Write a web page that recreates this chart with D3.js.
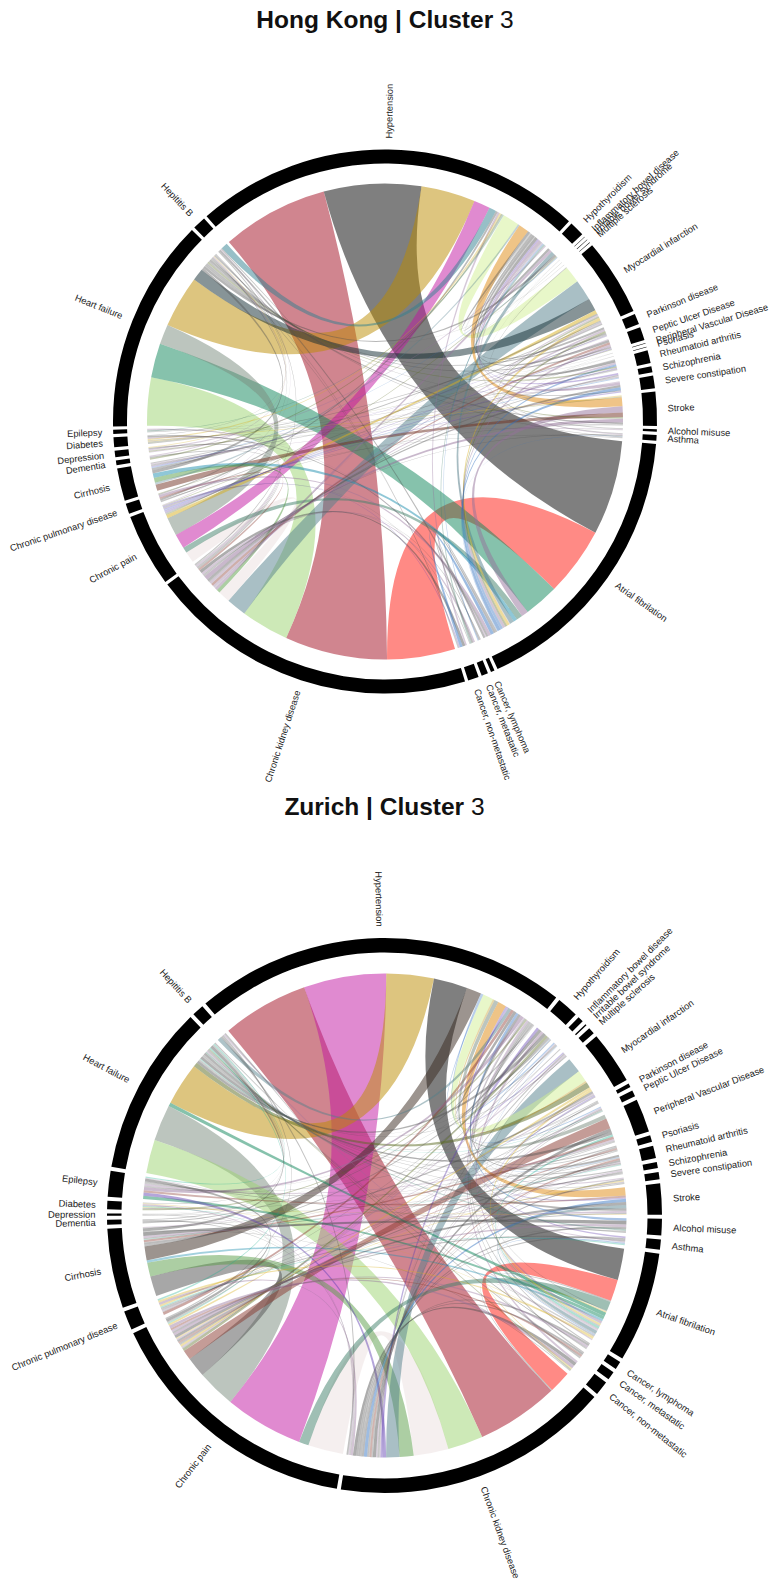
<!DOCTYPE html>
<html>
<head>
<meta charset="utf-8">
<script src="https://cdn.jsdelivr.net/npm/d3@7"></script>
<style>
  html, body { margin: 0; padding: 0; background: #fff; }
  svg { display: block; }
  text { font-family: "Liberation Sans", Arial, sans-serif; }
</style>
</head>
<body>
<div id="chart"></div>
<script>
// sector names, clockwise from the top
const categories = ['Hypertension','Hypothyroidism','Inflammatory bowel disease','Irritable bowel syndrome','Multiple sclerosis',
  'Myocardial infarction','Parkinson disease','Peptic Ulcer Disease','Peripheral Vascular Disease','Psoriasis',
  'Rheumatoid arthritis','Schizophrenia','Severe constipation','Stroke','Alcohol misuse','Asthma','Atrial fibrilation',
  'Cancer, lymphoma','Cancer, metastatic','Cancer, non-metastatic','Chronic kidney disease','Chronic pain',
  'Chronic pulmonary disease','Cirrhosis','Dementia','Depression','Diabetes','Epilepsy','Heart failure','Hepititis B'];

const [H,HT,IBD,IBS,MS,MI,PD,PUD,PVD,PSO,RA,SZ,SC,ST,AM,AS,AF,CL,CM,CN,CKD,CP,COPD,CI,DM,DP,DB,EP,HF,HB] = categories.map((d,i) => i);

// sector sizes, same order as categories
const hkSizes = [83,3.2,.1,.1,.1,16.3,2.3,2.8,.1,.1,2.7,1.3,2.7,7.2,.5,1.2,60.4,.8,1.4,2.3,69.8,15.5,2.2,6.9,1,1.4,2.1,.9,45.5,2.8];
const zhSizes = [78.4,4.5,1.2,.3,1.4,11,.8,1.3,7,1.4,2.6,1.3,1.5,6.5,3.5,2.1,23.1,1.7,1.8,3,58.2,55,4,16.7,1,.5,1.8,5.4,35.5,2.5];

// link colours (drawn at 50% opacity)
const palette = {
  rose:'#A10B1F', grey:'#000000', salmon:'#FF150B', tan:'#BB8B00', lgreen:'#9BD36F', teal:'#0D8559', silver:'#798B7D',
  steel:'#537F8B', pgreen:'#D1EF93', mag:'#C115A1', slate:'#102A30', ppink:'#EBDFDF', orange:'#DF8A10', steel2:'#2F7F8F',
  mauve:'#93719A', sage:'#3F7F6A', gold:'#D8B020', brown:'#703020', cyan:'#1F90B0', gray:'#505050', olive:'#5A6A20',
  blue:'#3070C0', purple:'#6040B0', rust:'#8A3A30', warm:'#3A2A20', sage2:'#5A9D48', mint:'#20B090'
};

// [sector, sector, width, colour]
const hkLinks = [
  [H,CKD,25.6,'rose'],[H,AF,23.3,'grey'],[AF,CKD,17,'salmon'],[H,HF,13,'tan'],[HF,CKD,12,'lgreen'],[HF,AF,8.5,'teal'],
  [CP,HF,5,'silver'],[MI,CKD,5,'steel'],[H,MI,4,'pgreen'],[H,CP,3.9,'mag'],[HF,MI,3,'slate'],[CP,CKD,3,'ppink'],
  [H,ST,2.5,'orange'],[H,HB,1.7,'steel2'],[AF,ST,1.7,'mauve'],[CP,AF,1.5,'sage'],[MI,CP,.9,'gold'],[CI,ST,1.2,'brown'],
  [CI,AF,.9,'cyan'],[CI,CKD,.9,'sage2'],[CI,HF,.6,'gray'],[CI,H,.4,'steel'],[CI,MI,.4,'gray'],
  [HT,H,.6,'gray'],[HT,CKD,.7,'mauve'],[HT,AF,1,'steel'],[HT,HF,.6,'gray'],[HT,CP,.3,'olive'],[HT,CI,.2,'blue'],
  [IBD,H,.1,'gray'],[IBD,AF,.1,'gray'],[IBD,CKD,.1,'mauve'],[IBS,H,.1,'gray'],[IBS,CKD,.1,'gray'],[IBS,CP,.1,'olive'],
  [MS,H,.1,'gray'],[MS,HF,.1,'gray'],[MS,AF,.1,'mauve'],
  [MI,AS,.2,'gray'],[MI,SC,.3,'mauve'],[MI,ST,.4,'olive'],[MI,AF,.7,'gold'],[MI,DB,.3,'gray'],[MI,RA,.2,'gray'],[MI,PUD,.3,'mauve'],[MI,COPD,.3,'gray'],
  [PD,H,.5,'gray'],[PD,CKD,.5,'mauve'],[PD,AF,.5,'olive'],[PD,HF,.4,'gray'],[PD,CP,.2,'gray'],[PD,CI,.2,'purple'],[PD,ST,.1,'gray'],
  [PUD,H,.6,'gray'],[PUD,CKD,.6,'rust'],[PUD,AF,.6,'mauve'],[PUD,HF,.4,'gray'],[PUD,CP,.3,'purple'],[PUD,DB,.2,'olive'],
  [PVD,H,.1,'gray'],[PVD,CKD,.1,'gray'],[PVD,AF,.1,'gray'],[PSO,H,.1,'gray'],[PSO,HF,.1,'gray'],[PSO,CP,.1,'gray'],
  [RA,H,.7,'gray'],[RA,CKD,.5,'mauve'],[RA,AF,.6,'blue'],[RA,HF,.4,'olive'],[RA,CP,.3,'purple'],[RA,DB,.2,'gray'],[RA,EP,.1,'gray'],[RA,CI,.1,'gray'],
  [SZ,H,.4,'purple'],[SZ,CKD,.3,'gray'],[SZ,DP,.2,'mauve'],[SZ,CI,.2,'gray'],[SZ,CP,.2,'blue'],
  [SC,H,.7,'mauve'],[SC,CKD,.6,'gray'],[SC,AF,.8,'blue'],[SC,HF,.3,'gray'],[SC,CP,.3,'purple'],
  [ST,CKD,1,'mauve'],[ST,HF,.5,'gray'],[ST,DB,.3,'gold'],[ST,EP,.1,'gray'],[ST,DP,.2,'olive'],[ST,CP,.2,'gray'],
  [AM,H,.2,'gray'],[AM,CI,.2,'mauve'],[AM,DP,.1,'gray'],
  [AS,H,.3,'mauve'],[AS,CKD,.3,'gray'],[AS,AF,.2,'blue'],[AS,HF,.2,'gray'],[AS,COPD,.2,'gray'],
  [CL,CKD,.3,'gray'],[CL,AF,.4,'gray'],[CL,H,.3,'blue'],[CM,CKD,.5,'mauve'],[CM,AF,.5,'gray'],[CM,H,.4,'sage'],[CM,CP,.2,'gray'],
  [CN,H,.5,'mauve'],[CN,CKD,.8,'gray'],[CN,AF,.8,'blue'],[CN,CP,.3,'purple'],[CN,HF,.2,'gray'],
  [COPD,H,.5,'gray'],[COPD,CKD,.5,'rust'],[COPD,AF,.7,'mauve'],[COPD,HF,.3,'gray'],[COPD,CP,.2,'olive'],
  [CI,DB,.2,'gray'],[DM,H,.4,'olive'],[DM,CKD,.3,'gray'],[DM,HF,.3,'mauve'],
  [DP,H,.3,'mauve'],[DP,CKD,.3,'gray'],[DP,HF,.2,'gold'],
  [DB,H,.4,'gold'],[DB,CKD,.4,'mauve'],[DB,AF,.5,'gray'],[EP,H,.3,'sage'],[EP,CKD,.2,'gray'],[EP,AF,.3,'mauve'],
  [HB,CKD,.3,'gray'],[HB,AF,.5,'gray'],[HB,CP,.2,'mauve'],[HB,HF,.3,'gray'],
  [HF,CN,.2,'gray'],[HF,DB,.2,'gray']
];
// clockwise order of the named partners at the start of a sector, the rest follow in list order
const hkOrder = [
  [H,[CKD,AF,HF,CP,HB,COPD,CN,DB,DM,EP,MI,CI,ST]],
  [CKD,[AF,H,HF,MI,CP]],
  [HF,[CKD,AF,CP,H,MI]],
  [CP,[CKD,AF,H,HF]],
  [MI,[AS,H,CKD,HF,CP]],
  [HB,[CKD,AF,CP,HF,H]],
  [ST,[DB,DP,H,AF,CI]],
  [CI,[ST,H,CKD,AF]]
];

const zhLinks = [
  [H,CKD,20.5,'rose'],[H,CP,19.5,'mag'],[H,HF,11.2,'tan'],[H,AF,8,'grey'],[CP,CKD,8.7,'ppink'],[HF,CP,9.5,'silver'],
  [HF,CKD,8.8,'lgreen'],[AF,CKD,5.5,'salmon'],[CI,CP,5,'gray'],[CI,CKD,3.5,'sage2'],[CKD,MI,3.3,'steel'],[CP,AF,2.4,'sage'],
  [H,CI,3.5,'warm'],[H,MI,2.5,'pgreen'],[H,ST,2,'orange'],[CP,PVD,2.4,'rust'],
  [HF,MI,1.2,'olive'],[HF,AF,1,'teal'],[EP,AF,.8,'teal'],[EP,CKD,.8,'purple'],[HT,CKD,.6,'purple'],[EP,ST,.5,'rust'],[CI,AF,.6,'cyan'],
  [H,HB,.8,'steel'],[H,COPD,.7,'rust'],[H,HT,.7,'gray'],[H,PVD,1,'silver'],[H,AM,.6,'blue'],[H,RA,.6,'gray'],[H,EP,.8,'mauve'],
  [H,SC,.3,'mauve'],[H,SZ,.3,'gray'],[H,DB,.4,'olive'],[H,CN,.5,'mauve'],[H,CM,.3,'gray'],[H,CL,.3,'gray'],[H,AS,.4,'purple'],
  [H,PUD,.3,'blue'],[H,PD,.2,'gray'],[H,MS,.3,'purple'],[H,IBD,.3,'blue'],[H,PSO,.3,'gray'],[H,DM,.3,'gray'],[H,DP,.1,'gray'],
  [HT,AF,.6,'mauve'],[HT,HF,.7,'gray'],[HT,CP,.6,'olive'],[HT,CI,.4,'gray'],[HT,EP,.2,'gray'],[HT,RA,.2,'blue'],[HT,COPD,.2,'gray'],
  [IBD,CKD,.2,'mauve'],[IBD,CP,.2,'gray'],[IBD,HF,.2,'gray'],[IBD,AF,.1,'blue'],[IBS,CKD,.1,'gray'],[IBS,CP,.1,'gray'],[IBS,H,.1,'gray'],
  [MS,CKD,.3,'gray'],[MS,CP,.3,'mauve'],[MS,AF,.2,'gray'],[MS,HF,.2,'gray'],
  [MI,H,.4,'tan'],[MI,CP,.5,'gold'],[MI,AF,.5,'gold'],[MI,CI,.5,'gray'],[MI,COPD,.3,'mauve'],[MI,EP,.2,'gray'],[MI,ST,.3,'purple'],[MI,RA,.2,'gray'],
  [PD,CKD,.2,'gray'],[PD,CP,.2,'gray'],[PD,AF,.1,'gray'],[PD,HF,.1,'gray'],
  [PUD,CKD,.3,'mauve'],[PUD,CP,.3,'gray'],[PUD,AF,.2,'gray'],[PUD,HF,.2,'mint'],[PUD,CI,.1,'gray'],
  [PVD,CKD,.8,'gray'],[PVD,HF,.7,'gray'],[PVD,AF,.5,'mint'],[PVD,CI,.6,'rust'],[PVD,EP,.4,'mauve'],[PVD,DB,.2,'gray'],[PVD,COPD,.2,'gray'],
  [PSO,CKD,.3,'gray'],[PSO,CP,.4,'rust'],[PSO,HF,.2,'gray'],[PSO,AF,.2,'gray'],
  [RA,CKD,.5,'rust'],[RA,CP,.5,'gray'],[RA,AF,.3,'mauve'],[RA,HF,.3,'gray'],[RA,EP,.2,'gray'],[RA,CI,.2,'mint'],
  [SZ,CP,.3,'mauve'],[SZ,CKD,.2,'gray'],[SZ,CI,.3,'gray'],[SZ,DP,.1,'gray'],[SZ,EP,.1,'gray'],
  [SC,CKD,.4,'gray'],[SC,CP,.3,'gold'],[SC,AF,.2,'mauve'],[SC,HF,.2,'gray'],[SC,COPD,.2,'gray'],
  [ST,CKD,.8,'blue'],[ST,CP,.7,'gray'],[ST,AF,.8,'steel'],[ST,HF,.6,'gray'],[ST,CI,.5,'mauve'],[ST,COPD,.3,'gray'],[ST,DB,.2,'gold'],
  [AM,CI,.9,'gray'],[AM,CP,.6,'mauve'],[AM,CKD,.5,'gray'],[AM,HF,.4,'sage'],[AM,AF,.2,'gray'],[AM,EP,.3,'gray'],
  [AS,CKD,.4,'gray'],[AS,CP,.4,'gray'],[AS,HF,.3,'mauve'],[AS,AF,.3,'blue'],[AS,COPD,.3,'mint'],
  [CL,CKD,.5,'gray'],[CL,CP,.5,'mauve'],[CL,AF,.2,'gray'],[CL,HF,.2,'gray'],
  [CM,CKD,.5,'gray'],[CM,CP,.5,'rust'],[CM,AF,.2,'gray'],[CM,HF,.3,'gray'],
  [CN,CKD,.8,'gray'],[CN,CP,.7,'mauve'],[CN,AF,.3,'gold'],[CN,HF,.3,'olive'],[CN,CI,.2,'gray'],
  [CP,COPD,.5,'gold'],[CP,DB,.3,'mint'],[CP,DP,.1,'gray'],[CP,DM,.2,'gray'],[CP,EP,.7,'gray'],
  [COPD,CKD,.6,'mauve'],[COPD,AF,.5,'gold'],[COPD,HF,.4,'mint'],
  [CI,HF,.7,'gray'],[CI,DB,.2,'gray'],[CI,EP,.2,'mauve'],
  [DM,CKD,.2,'gray'],[DM,HF,.2,'gray'],[DB,CKD,.3,'mauve'],[DB,AF,.2,'gold'],[DB,HF,.2,'gray'],
  [EP,HF,.3,'mint'],[DP,CKD,.1,'gray'],[DP,HF,.1,'gray'],
  [HB,CKD,.4,'gray'],[HB,CP,.3,'gray'],[HB,AF,.3,'mauve'],[HB,HF,.3,'gray'],[CKD,AF,.3,'gray']
];
const zhOrder = [
  [H,[CKD,CP,HF,AF,CI,PUD,IBD,MI,PVD,ST,AS,MS]],
  [AF,[H,CKD,CP,MS,CN,HF]],
  [CKD,[AF,H,HF,CP,CI,MI]],
  [CP,[CKD,AF,H,HF,CI,PVD]],
  [HF,[CKD,CP,AF,H,MI]],
  [CI,[CP,CKD,AF,H]],
  [MI,[CKD,H,HF]],
  [PVD,[H,CP]]
];

const panels = [
  { title:'Hong Kong | Cluster ', titleY:28, cx:385, cy:421.5, ringOuter:272, ringInner:258, chord:238, labelR:283, labelSize:9.3, start:-41, gap:.7, sizes:hkSizes, links:hkLinks, order:hkOrder },
  { title:'Zurich | Cluster ', titleY:815, cx:384.5, cy:1215.5, ringOuter:277.5, ringInner:263, chord:242, labelR:289, labelSize:9.4, start:-40.2, gap:.83, sizes:zhSizes, links:zhLinks, order:zhOrder }
];

const width = 769, height = 1579;
const rad = d => d * Math.PI / 180;

// the thinnest links fade to hairlines in the reference
const linkOpacity = d3.scaleLinear().domain([.1, .9]).range([.26, .5]).clamp(true);

const svg = d3.select('#chart').append('svg')
  .attr('width', width)
  .attr('height', height)
  .attr('viewBox', `0 0 ${width} ${height}`);

svg.append('rect').attr('width', width).attr('height', height).attr('fill', '#fff');

function layoutSectors(p){
  const angle = d3.scaleLinear()
    .domain([0, d3.sum(p.sizes)])
    .range([0, 360 - p.sizes.length * p.gap]);
  let run = 0;
  return p.sizes.map((s, i) => {
    const off = p.start + i * p.gap;
    const sector = { index:i, name:categories[i], start:off + angle(run), end:off + angle(run + s) };
    run += s;
    return sector;
  });
}

function layoutRibbons(p, sectors){
  const ribbons = p.links.map(l => ({ a:l[0], b:l[1], value:l[2], color:l[3], source:null, target:null }));
  const orderOf = new Map(p.order);
  sectors.forEach(sec => {
    const i = sec.index;
    const ends = ribbons.filter(r => r.a === i || r.b === i);
    if (!ends.length) return;
    const lead = orderOf.get(i) || [];
    const rank = r => {
      const k = lead.indexOf(r.a === i ? r.b : r.a);
      return k < 0 ? lead.length : k;
    };
    const sorted = ends.map((r, n) => ({ r, n })).sort((x, y) => rank(x.r) - rank(y.r) || x.n - y.n).map(d => d.r);
    const fit = d3.scaleLinear().domain([0, d3.sum(sorted, d => d.value)]).range([sec.start, sec.end]);
    let run = 0;
    sorted.forEach(r => {
      const end = { startAngle:rad(fit(run)), endAngle:rad(fit(run + r.value)) };
      run += r.value;
      if (r.a === i) r.source = end; else r.target = end;
    });
  });
  return ribbons;
}

panels.forEach(p => {
  const sectors = layoutSectors(p);
  const ribbons = layoutRibbons(p, sectors);

  svg.append('text')
    .attr('x', p.cx)
    .attr('y', p.titleY)
    .attr('text-anchor', 'middle')
    .attr('font-size', 24.5)
    .attr('fill', '#111')
    .call(t => {
      t.append('tspan').attr('font-weight', 'bold').text(p.title);
      t.append('tspan').text('3');
    });

  const g = svg.append('g').attr('transform', `translate(${p.cx},${p.cy})`);

  const ribbon = d3.ribbon().radius(p.chord);
  g.append('g').selectAll('path')
    .data(ribbons)
    .join('path')
    .attr('d', ribbon)
    .attr('fill', d => palette[d.color])
    .attr('fill-opacity', d => linkOpacity(d.value));

  const arc = d3.arc()
    .innerRadius(p.ringInner)
    .outerRadius(p.ringOuter)
    .startAngle(d => rad(d.start))
    .endAngle(d => rad(d.end));
  g.append('g').selectAll('path')
    .data(sectors)
    .join('path')
    .attr('d', arc)
    .attr('fill', '#000');

  g.append('g').selectAll('text')
    .data(sectors)
    .join('text')
    .attr('font-size', p.labelSize)
    .attr('fill', '#222')
    .attr('dy', '.35em')
    .attr('text-anchor', d => ((d.start + d.end) / 2 + 360) % 360 > 180 ? 'end' : 'start')
    .attr('transform', d => {
      const mid = ((d.start + d.end) / 2 + 360) % 360;
      return `rotate(${mid - 90}) translate(${p.labelR},0)` + (mid > 180 ? ' rotate(180)' : '');
    })
    .text(d => d.name);
});
</script>
</body>
</html>
